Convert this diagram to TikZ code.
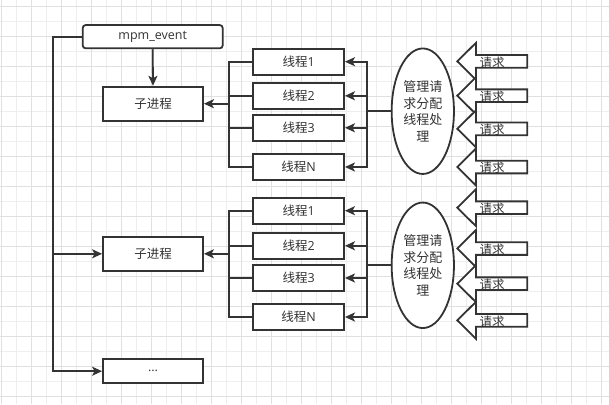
\documentclass[tikz,border=0pt]{standalone}
\usepackage{fontspec}
\setmainfont{Open Sans}
\newfontfamily\cjk{Noto Sans CJK SC}
\usetikzlibrary{arrows.meta,shapes.geometric}

\definecolor{linec}{HTML}{333333}
\definecolor{textc}{HTML}{333333}
\definecolor{gridminor}{HTML}{EEEEEE}
\definecolor{gridmajor}{HTML}{E0E0E0}

\tikzset{
  lbl/.style={font=\fontsize{12.5}{15}\selectfont, text=textc},
  box/.style={lbl, draw=linec, line width=1.8pt, fill=white, inner sep=0pt,
    minimum width=100pt, minimum height=34pt},
  thread/.style={box, minimum width=90.7pt, minimum height=26pt},
  disp/.style={lbl, draw=linec, line width=1.8pt, fill=white, ellipse, inner sep=0pt,
    minimum width=62.3pt, minimum height=125.5pt, align=center,
    font=\fontsize{13}{16.5}\selectfont\cjk},
  conn/.style={draw=linec, line width=1.8pt},
  arr/.style={conn, -{Stealth[length=10pt, width=9pt, inset=2.5pt]}},
  req/.style={draw=linec, line width=1.8pt, fill=white, line join=miter},
  reqtext/.style={lbl, inner sep=0pt, font=\fontsize{12.5}{15}\selectfont\cjk},
}

% block arrow pointing left: #1 = shaft centre y, #2 = label name
\newcommand\reqarrow[2]{%
  \draw[req] (457.3,#1) -- (476,{#1-18.5}) -- (476,{#1-6.35}) -- (527.3,{#1-6.35})
    -- (527.3,{#1+6.35}) -- (476,{#1+6.35}) -- (476,{#1+18.5}) -- cycle;
  \node[reqtext] (#2) at (492,{#1+1}) {请求};
}

\begin{document}
\begin{tikzpicture}[x=1pt, y=-1pt]
  \useasboundingbox (0,0) rectangle (609,404);
  \fill[white] (0,0) rectangle (609,404);

  % background grid
  \foreach \i in {0,...,40} {
    \draw[gridminor, line width=0.8pt] ({1.7+15*\i},0) -- ({1.7+15*\i},404);
  }
  \foreach \i in {0,...,26} {
    \draw[gridminor, line width=0.8pt] (0,{6+15*\i}) -- (609,{6+15*\i});
  }
  \foreach \i in {0,...,20} {
    \draw[gridmajor, line width=0.8pt] ({1.7+30*\i},0) -- ({1.7+30*\i},404);
  }
  \foreach \i in {0,...,13} {
    \draw[gridmajor, line width=0.8pt] (0,{6+30*\i}) -- (609,{6+30*\i});
  }

  % master process and child processes
  \node[box, rounded corners=3pt, minimum width=140pt, minimum height=23.3pt] (mpm) at (152.7,36.7) {mpm\_event};
  \node[box] (sp1) at (153,103.7) {\cjk 子进程};
  \node[box] (sp2) at (153,253.8) {\cjk 子进程};
  \node[box, minimum height=24.3pt] (more) at (153,371.2) {...};

  % threads of the first child
  \node[thread] (ta1) at (298.7,61.7) {{\cjk 线程}1};
  \node[thread] (ta2) at (298.7,95.8) {{\cjk 线程}2};
  \node[thread] (ta3) at (298.7,127.8) {{\cjk 线程}3};
  \node[thread] (taN) at (298.7,167) {{\cjk 线程}N};

  % threads of the second child
  \node[thread] (tb1) at (298.7,210.7) {{\cjk 线程}1};
  \node[thread] (tb2) at (298.7,245.8) {{\cjk 线程}2};
  \node[thread] (tb3) at (298.7,278) {{\cjk 线程}3};
  \node[thread] (tbN) at (298.7,317) {{\cjk 线程}N};

  % request dispatchers
  \node[disp] (da) at (422.8,111.2) {管理请\\求分配\\线程处\\理};
  \node[disp] (db) at (422.8,265.3) {管理请\\求分配\\线程处\\理};

  % incoming requests
  \reqarrow{61.3}{ra1}
  \reqarrow{95.7}{ra2}
  \reqarrow{128.8}{ra3}
  \reqarrow{167}{ra4}
  \reqarrow{207.7}{rb1}
  \reqarrow{248.5}{rb2}
  \reqarrow{283.7}{rb3}
  \reqarrow{320.3}{rb4}

  % mpm_event to its children
  \coordinate (trunk) at (53.3,36.7);
  \draw[arr] (mpm.west) -- (trunk) |- (more.west);
  \draw[arr] (trunk |- sp2.west) -- (sp2.west);
  \draw[arr] (mpm.south) -- (sp1.north);

  % threads to their child process
  \coordinate (lba) at (229,103.7);
  \coordinate (lbb) at (229,253.8);
  \foreach \t in {ta1,ta2,ta3,taN} { \draw[conn] (\t.west) -| (lba); }
  \foreach \t in {tb1,tb2,tb3,tbN} { \draw[conn] (\t.west) -| (lbb); }
  \draw[arr] (lba) -- (sp1.east);
  \draw[arr] (lbb) -- (sp2.east);

  % dispatchers to threads
  \coordinate (rba) at (366.7,111.2);
  \coordinate (rbb) at (366.7,265.3);
  \draw[conn] (da.west) -- (rba);
  \draw[conn] (db.west) -- (rbb);
  \foreach \t in {ta1,ta2,ta3,taN} { \draw[arr] (rba) |- (\t.east); }
  \foreach \t in {tb1,tb2,tb3,tbN} { \draw[arr] (rbb) |- (\t.east); }
\end{tikzpicture}
\end{document}
